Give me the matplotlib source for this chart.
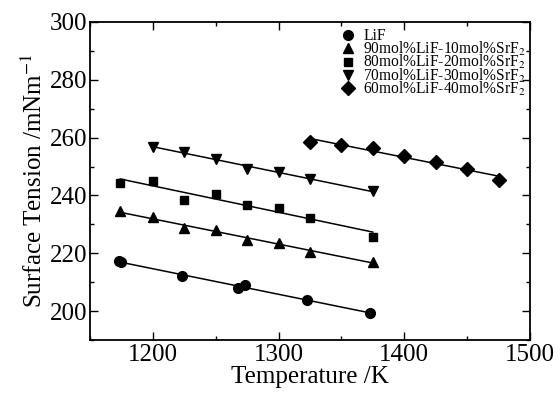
import numpy as np
import matplotlib
matplotlib.use("Agg")
import matplotlib.pyplot as plt
from matplotlib.ticker import MultipleLocator

plt.rcParams["font.family"] = ["Liberation Serif", "DejaVu Serif"]
plt.rcParams["mathtext.fontset"] = "stix"

# LiF
t_lif = [1173, 1175, 1223, 1268, 1273, 1323, 1373]
s_lif = [217.2, 216.9, 212.3, 207.9, 209.0, 203.9, 199.3]
# 90mol%LiF-10mol%SrF2
t_10 = [1174, 1200, 1225, 1250, 1275, 1300, 1325, 1375]
s_10 = [234.5, 232.4, 228.6, 228.2, 224.5, 223.7, 220.6, 217.0]
# 80mol%LiF-20mol%SrF2
t_20 = [1174, 1200, 1225, 1250, 1275, 1300, 1325, 1375]
s_20 = [244.2, 245.1, 238.5, 240.5, 236.8, 235.6, 232.2, 225.8]
# 70mol%LiF-30mol%SrF2
t_30 = [1200, 1225, 1250, 1275, 1300, 1325, 1375]
s_30 = [256.9, 255.0, 252.7, 249.2, 248.0, 245.7, 241.6]
# 60mol%LiF-40mol%SrF2
t_40 = [1325, 1350, 1375, 1400, 1425, 1450, 1475]
s_40 = [258.4, 257.6, 256.4, 253.8, 251.5, 249.2, 245.4]

series = [
    (t_lif, s_lif, "o", 7.0, "LiF"),
    (t_10, s_10, "^", 7.0, "90mol%LiF-10mol%SrF$_2$"),
    (t_20, s_20, "s", 6.3, "80mol%LiF-20mol%SrF$_2$"),
    (t_30, s_30, "v", 7.0, "70mol%LiF-30mol%SrF$_2$"),
    (t_40, s_40, "D", 7.0, "60mol%LiF-40mol%SrF$_2$"),
]

fig = plt.figure(figsize=(5.6, 3.97), dpi=100)
ax = fig.add_axes([90 / 560, 57 / 397, 440 / 560, 318 / 397])

for t, s, m, ms, lab in series:
    t = np.array(t, float); s = np.array(s, float)
    k, b = np.polyfit(t, s, 1)
    xx = np.array([t.min(), t.max()])
    ax.plot(xx, k * xx + b, "-", color="black", lw=1.1)
    ax.plot(t, s, m, color="black", ms=ms, label=lab, ls="none")

ax.set_xlim(1150, 1500)
ax.set_ylim(190, 300)
ax.xaxis.set_major_locator(MultipleLocator(100))
ax.xaxis.set_minor_locator(MultipleLocator(50))
ax.yaxis.set_major_locator(MultipleLocator(20))
ax.yaxis.set_minor_locator(MultipleLocator(10))
ax.tick_params(which="both", direction="in", top=True, right=True, labelsize=18, width=1.0)
ax.tick_params(which="major", length=6)
ax.tick_params(which="minor", length=3)
ax.tick_params(axis="x", pad=3)
ax.tick_params(axis="y", pad=2)
for sp in ax.spines.values():
    sp.set_linewidth(1.3)

ax.set_xlabel("Temperature /K", fontsize=18, labelpad=0)
ax.set_ylabel("Surface Tension /mNm$^{-1}$", fontsize=18, labelpad=2)

ax.legend(loc="upper right", frameon=False, fontsize=11.2, handletextpad=0.5,
          labelspacing=-0.3, borderaxespad=0.0, handlelength=1.0,
          bbox_to_anchor=(1.005, 1.0))

fig.savefig("out.png", dpi=100, facecolor="white")
